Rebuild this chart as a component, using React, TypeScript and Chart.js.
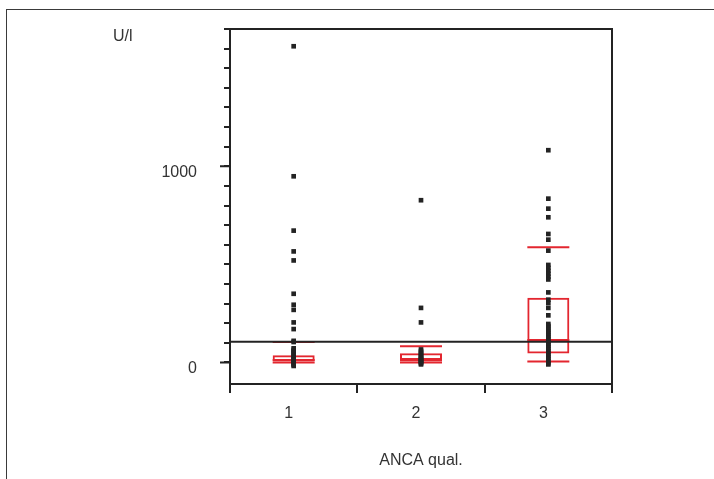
import React, { useEffect, useRef } from 'react';
import { Chart, registerables } from 'chart.js';

Chart.register(...registerables);

// ---- data ----
const categories = ['1', '2', '3'];
const q1 = [0, 0, 46];
const q3 = [36, 47, 330];
const medians = [12, 17, 114];
const whiskerLow = [0, 0, 5];
const whiskerHigh = [104, 82, 587];

const points1 = [1612, 949, 672, 566, 520, 350, 294, 268, 204, 170, 110, 104, 72, 64, 56, 48, 40, 32, 25, 18, 12, 6, 0, -6, -12, -18];
const points2 = [827, 278, 204, 66, 58, 50, 42, 35, 28, 22, 16, 10, 5, 0, -5, -10];
const points3 = [1082, 835, 784, 740, 655, 626, 570, 497, 482, 467, 452, 437, 423, 357, 320, 303, 278, 240,
  196, 186, 176, 166, 156, 146, 136, 126, 116, 106, 96, 86, 76, 66, 56, 46, 36, 26, 16, 6, -4, -10];

const referenceLine = 105;
const yMin = -110;
const yMax = 1700;
const yTicks = [0, 100, 200, 300, 400, 500, 600, 700, 800, 900, 1000, 1100, 1200, 1300, 1400, 1500, 1600, 1700];
const yLabelTicks = [0, 1000];
const yUnit = 'U/l';
const xTitle = 'ANCA qual.';

const RED = '#e3262f';
const BLACK = '#232323';
const TEXT = '#333333';
const FONT = "'Liberation Sans', Arial, sans-serif";

export default function App() {
  const ref = useRef<HTMLCanvasElement | null>(null);

  useEffect(() => {
    if (!ref.current) return;
    const groups = [points1, points2, points3];
    const dots: { x: string; y: number }[] = [];
    groups.forEach((g, i) => g.forEach((v) => dots.push({ x: categories[i], y: v })));

    const framePlugin = {
      id: 'frame',
      afterDatasetsDraw(chart: any) {
        const { ctx, chartArea: a, scales } = chart;
        const py = scales.y.getPixelForValue(referenceLine);
        ctx.save();
        ctx.strokeStyle = BLACK;
        ctx.lineWidth = 2;
        ctx.beginPath();
        ctx.moveTo(a.left, py);
        ctx.lineTo(a.right, py);
        ctx.stroke();
        ctx.restore();
      },
      afterDraw(chart: any) {
        const { ctx, chartArea: a, scales } = chart;
        ctx.save();
        ctx.strokeStyle = BLACK;
        ctx.lineWidth = 2;
        ctx.strokeRect(a.left, a.top, a.right - a.left, a.bottom - a.top);
        ctx.beginPath();
        yLabelTicks.forEach((v) => {
          const py = scales.y.getPixelForValue(v);
          ctx.moveTo(a.left - 10, py);
          ctx.lineTo(a.left, py);
        });
        ctx.stroke();
        ctx.fillStyle = TEXT;
        ctx.font = `16px ${FONT}`;
        ctx.textAlign = 'left';
        ctx.textBaseline = 'middle';
        ctx.fillText(yUnit, a.left - 117, a.top + 8);
        ctx.restore();
      },
    };

    const chart = new Chart(ref.current, {
      type: 'bar',
      data: {
        labels: categories,
        datasets: [
          {
            type: 'scatter',
            data: dots as any,
            pointStyle: 'rect',
            pointRadius: 3.3,
            backgroundColor: BLACK,
            borderWidth: 0,
            order: 0,
          } as any,
          {
            type: 'scatter',
            data: medians.map((v, i) => ({ x: categories[i], y: v })) as any,
            pointStyle: 'line',
            pointRadius: 21,
            borderColor: RED,
            borderWidth: 2,
            order: 1,
          } as any,
          {
            type: 'scatter',
            data: [
              ...whiskerHigh.map((v, i) => ({ x: categories[i], y: v })),
              ...whiskerLow.map((v, i) => ({ x: categories[i], y: v })),
            ] as any,
            pointStyle: 'line',
            pointRadius: 21,
            borderColor: RED,
            borderWidth: 2,
            order: 2,
          } as any,
          {
            type: 'bar',
            data: q1.map((v, i) => [v, q3[i]]) as any,
            backgroundColor: 'rgba(255,255,255,0)',
            borderColor: RED,
            borderWidth: 2,
            borderSkipped: false,
            categoryPercentage: 1,
            barPercentage: 0.33,
            order: 3,
          } as any,
        ],
      },
      options: {
        animation: false,
        responsive: false,
        devicePixelRatio: 1,
        events: [],
        layout: { padding: { left: 0, top: 29, right: 102, bottom: 0 } },
        plugins: { legend: { display: false }, tooltip: { enabled: false } },
        scales: {
          x: {
            type: 'category',
            offset: true,
            grid: {
              offset: true,
              drawOnChartArea: false,
              drawTicks: true,
              tickLength: 9,
              color: BLACK,
              lineWidth: 2,
            },
            border: { display: true, color: BLACK, width: 2 },
            ticks: { color: TEXT, font: { family: FONT, size: 16 }, padding: 11, labelOffset: -5 },
            title: {
              display: true,
              text: xTitle,
              color: TEXT,
              font: { family: FONT, size: 16 },
              padding: { top: 0, bottom: 9 },
            },
            afterFit: (s: any) => {
              s.height = 95;
              s.paddingLeft = 0;
              s.paddingRight = 0;
            },
          },
          y: {
            type: 'linear',
            min: yMin,
            max: yMax,
            afterBuildTicks: (s: any) => {
              s.ticks = yTicks.map((v) => ({ value: v }));
            },
            grid: {
              drawOnChartArea: false,
              drawTicks: true,
              tickLength: 6,
              color: BLACK,
              lineWidth: 2,
            },
            border: { display: true, color: BLACK, width: 2 },
            ticks: {
              color: TEXT,
              font: { family: FONT, size: 16 },
              padding: 27,
              labelOffset: 6,
              autoSkip: false,
              callback: (v: any) => (yLabelTicks.includes(Number(v)) ? String(v) : ''),
            },
            afterFit: (s: any) => {
              s.width = 230;
              s.paddingTop = 0;
              s.paddingBottom = 0;
            },
          },
        },
      },
      plugins: [framePlugin],
    } as any);

    return () => chart.destroy();
  }, []);

  return (
    <div style={{ position: 'fixed', left: 0, top: 0, width: 714, height: 479, background: '#fff' }}>
      <div
        style={{
          position: 'absolute',
          left: 6,
          top: 9,
          right: 0,
          bottom: 0,
          borderLeft: '1px solid #3a3a3a',
          borderTop: '1px solid #3a3a3a',
        }}
      />
      <canvas ref={ref} width={714} height={479} style={{ position: 'absolute', left: 0, top: 0 }} />
    </div>
  );
}
